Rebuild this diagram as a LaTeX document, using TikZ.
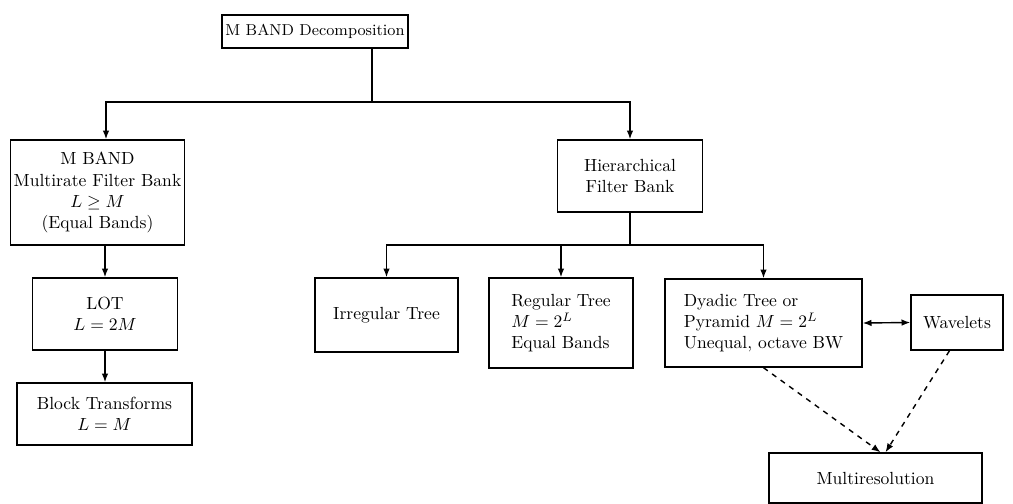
\documentclass[tikz,border=0pt]{standalone}
\usepackage{tikz}
\usetikzlibrary{arrows.meta,positioning,calc}
\begin{document}
\begin{tikzpicture}[font=\normalsize,line width=0.8pt]
        \tikzstyle{b}=[draw,align=center,inner sep=2pt]
        \tikzstyle{arr}=[-{Latex[length=5pt]}]
        \useasboundingbox (0,0) rectangle (20.26,-10.08);
        \node[b,font=\small,minimum width=2.8cm,minimum height=0.66cm] (decomp) at (6.3,-0.63) {M BAND Decomposition};
        \node[b,minimum width=3.22cm,minimum height=2.1cm] (mband) at (1.95,-3.85) {M BAND\\Multirate Filter Bank\\$L \ge M$\\(Equal Bands)};
        \node[b,minimum width=2.9cm,minimum height=1.44cm] (hier) at (12.6,-3.52) {Hierarchical\\Filter Bank};
        \node[b,minimum width=2.9cm,minimum height=1.44cm] (lot) at (2.1,-6.28) {LOT\\$L = 2M$};
        \node[b,minimum width=3.5cm,minimum height=1.24cm] (block) at (2.09,-8.28) {Block Transforms\\$L = M$};
        \node[b,minimum width=2.86cm,minimum height=1.48cm] (irreg) at (7.73,-6.3) {Irregular Tree};
        \node[b,minimum width=2.88cm,minimum height=1.8cm,align=left] (reg) at (11.22,-6.46) {Regular Tree\\$M = 2^L$\\Equal Bands};
        \node[b,minimum width=3.94cm,minimum height=1.76cm,align=left] (dyadic) at (15.27,-6.46) {Dyadic Tree or\\Pyramid $M = 2^L$\\Unequal, octave BW};
        \node[b,minimum width=1.84cm,minimum height=1.1cm] (wave) at (19.14,-6.45) {Wavelets};
        \node[b,minimum width=4.26cm,minimum height=1.0cm] (multi) at (17.51,-9.56) {Multiresolution};
        % top level split
        \coordinate (j1) at (7.44,-2.04);
        \draw (decomp.south -| j1) -- (j1);
        \draw[arr] (j1) -| ($(mband.north)+(0.17,0)$);
        \draw[arr] (j1) -| (hier.north);
        % left column
        \draw[arr] (lot.north |- mband.south) -- (lot.north);
        \draw[arr] (lot.south) -- (lot.south |- block.north);
        % hierarchical split
        \coordinate (j2) at (12.6,-4.9);
        \draw (hier.south) -- (j2);
        \draw[arr] (j2) -| (irreg.north);
        \draw[arr] (j2) -| (reg.north);
        \draw[arr] (j2) -| (dyadic.north);
        % wavelets and multiresolution
        \draw[{Latex[length=5pt]}-{Latex[length=5pt]}] (dyadic.east) -- (wave.west);
        \draw[arr,dashed] (dyadic.south) -- ($(multi.north)+(0.1,0)$);
        \draw[arr,dashed] ($(wave.south)+(-0.15,0)$) -- ($(multi.north)+(0.2,0)$);
      \end{tikzpicture}
\end{document}
